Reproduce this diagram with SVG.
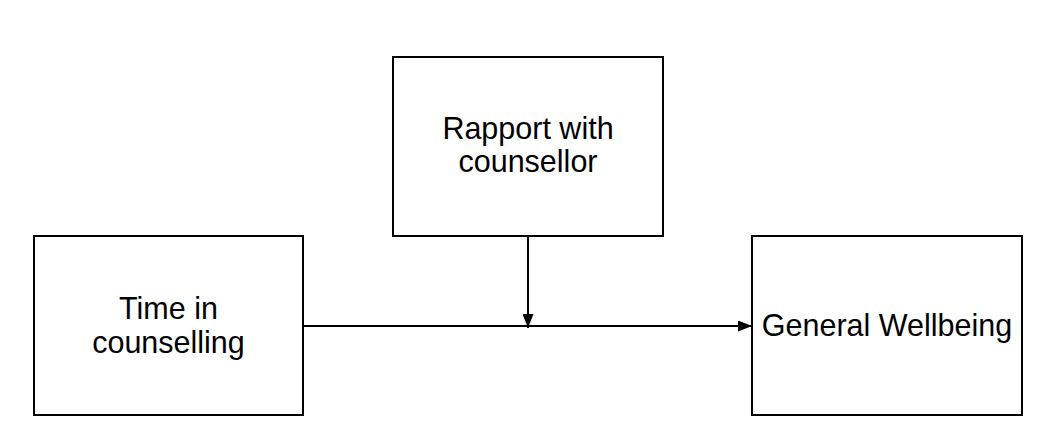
<svg xmlns="http://www.w3.org/2000/svg" width="1048" height="438" viewBox="0 0 1048 438">
<style>
.box{fill:#fff;stroke:#000;stroke-width:2}
.lbl{font-family:"Liberation Sans",Arial,sans-serif;font-size:30.5px;fill:#000;text-anchor:middle}
.edge{fill:none;stroke:#000;stroke-width:2}
</style>
<defs>
<marker id="arr" viewBox="0 0 14 11" refX="14" refY="5.5" markerWidth="14" markerHeight="11" markerUnits="userSpaceOnUse" orient="auto">
<path d="M0,0 L14,5.5 L0,11 Z" fill="#000"/>
</marker>
</defs>
<rect width="1048" height="438" fill="#fff"/>
<g id="connectors">
<path class="edge" d="M303,326 L752,326" marker-end="url(#arr)"/>
<path class="edge" d="M528,236 L528,328" marker-end="url(#arr)"/>
</g>
<g id="rapport">
<rect class="box" x="393" y="57" width="270" height="179"/>
<text class="lbl" x="528" y="139">Rapport with</text>
<text class="lbl" x="528" y="172">counsellor</text>
</g>
<g id="time">
<rect class="box" x="34" y="236" width="269" height="179"/>
<text class="lbl" x="168.5" y="319">Time in</text>
<text class="lbl" x="168.5" y="353">counselling</text>
</g>
<g id="wellbeing">
<rect class="box" x="752" y="236" width="270" height="179"/>
<text class="lbl" x="887" y="336">General Wellbeing</text>
</g>
</svg>
